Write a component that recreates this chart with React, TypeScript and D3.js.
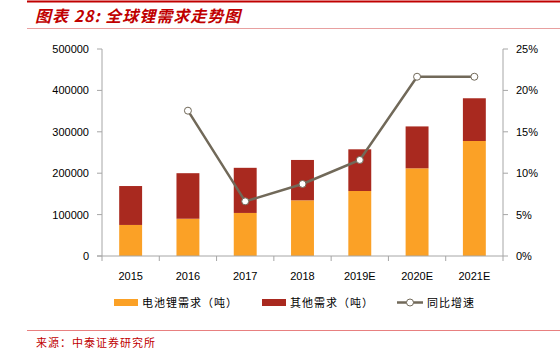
import React from "react";
import * as d3 from "d3";

const categories = ["2015", "2016", "2017", "2018", "2019E", "2020E", "2021E"];
const batteryDemand = [75000, 90000, 104000, 134500, 157000, 211800, 277800];
const otherDemand = [94000, 110000, 109000, 97500, 100700, 101200, 103200];
const growth: (number | null)[] = [null, 17.55, 6.6, 8.7, 11.6, 21.65, 21.65];
const leftTicks = [0, 100000, 200000, 300000, 400000, 500000];
const rightTicks = [0, 5, 10, 15, 20, 25];
const legendLabels = ["电池锂需求（吨）", "其他需求（吨）", "同比增速"];

const W = 560, H = 356;
const left = 102, right = 503, top = 49, bottom = 256;
const ORANGE = "#FBA126";
const RED = "#A9291F";
const LINE = "#716959";
const AXIS = "#A6A6A6";
const FONT = "'Liberation Sans', Arial, sans-serif";
const CJK = "'Noto Sans CJK SC', sans-serif";

export default function App() {
  const x = d3.scaleBand<string>().domain(categories).range([left, right]).paddingInner(0.6).paddingOuter(0.3);
  const xb = d3.scaleBand<string>().domain(categories).range([left, right]);
  const y = d3.scaleLinear().domain([0, 500000]).range([bottom, top]);
  const y2 = d3.scaleLinear().domain([0, 25]).range([bottom, top]);
  const pts = categories
    .map((c, i) => ({ c, v: growth[i] }))
    .filter((d) => d.v !== null) as { c: string; v: number }[];
  const line = d3
    .line<{ c: string; v: number }>()
    .x((d) => (xb(d.c) as number) + xb.bandwidth() / 2)
    .y((d) => y2(d.v));

  return (
    <svg width={W} height={H} style={{ position: "absolute", left: 0, top: 0 }}>
      <rect width={W} height={H} fill="#fff" />
      <line x1={27} x2={560} y1={1.5} y2={1.5} stroke="#C00000" strokeWidth={2} />
      <text x={35} y={22} fill="#C00000" fontFamily={CJK} fontSize={16} fontWeight="bold" fontStyle="italic" letterSpacing={1}>
        图表 28:  全球锂需求走势图
      </text>
      <line x1={27} x2={560} y1={28.5} y2={28.5} stroke="#E8A0A0" strokeWidth={1} />

      {/* bars */}
      {categories.map((c, i) => (
        <g key={c}>
          <rect x={x(c)} width={x.bandwidth()} y={y(batteryDemand[i])} height={bottom - y(batteryDemand[i])} fill={ORANGE} />
          <rect
            x={x(c)}
            width={x.bandwidth()}
            y={y(batteryDemand[i] + otherDemand[i])}
            height={y(batteryDemand[i]) - y(batteryDemand[i] + otherDemand[i])}
            fill={RED}
          />
        </g>
      ))}

      {/* left axis */}
      <line x1={left} x2={left} y1={top} y2={bottom} stroke={AXIS} />
      {leftTicks.map((t) => (
        <g key={t}>
          <line x1={left - 5} x2={left} y1={y(t)} y2={y(t)} stroke={AXIS} />
          <text x={89} y={y(t) + 4} textAnchor="end" fontFamily={FONT} fontSize={11} fill="#000">
            {t}
          </text>
        </g>
      ))}
      {/* right axis */}
      <line x1={right} x2={right} y1={top} y2={bottom} stroke={AXIS} />
      {rightTicks.map((t) => (
        <g key={t}>
          <line x1={right} x2={right + 5} y1={y2(t)} y2={y2(t)} stroke={AXIS} />
          <text x={516} y={y2(t) + 4} fontFamily={FONT} fontSize={11} fill="#000">
            {t + "%"}
          </text>
        </g>
      ))}
      {/* x axis */}
      <line x1={left - 5} x2={right} y1={bottom} y2={bottom} stroke={AXIS} />
      {categories.map((c, i) => (
        <g key={c}>
          <line x1={(xb(c) as number)} x2={(xb(c) as number)} y1={bottom} y2={bottom + 5} stroke={AXIS} />
          <text x={(xb(c) as number) + xb.bandwidth() / 2} y={280} textAnchor="middle" fontFamily={FONT} fontSize={11} fill="#000">
            {c}
          </text>
        </g>
      ))}
      <line x1={right} x2={right} y1={bottom} y2={bottom + 5} stroke={AXIS} />

      {/* growth line */}
      <path d={line(pts) || ""} fill="none" stroke={LINE} strokeWidth={2.5} />
      {pts.map((d) => (
        <circle key={d.c} cx={(xb(d.c) as number) + xb.bandwidth() / 2} cy={y2(d.v)} r={3.5} fill="#fff" stroke={LINE} strokeWidth={1} />
      ))}

      {/* legend */}
      <rect x={114} y={299} width={24} height={7} fill={ORANGE} />
      <text x={142} y={306.5} fontFamily={CJK} fontSize={11} letterSpacing={1} fill="#000">{legendLabels[0]}</text>
      <rect x={262} y={299} width={24} height={7} fill={RED} />
      <text x={290} y={306.5} fontFamily={CJK} fontSize={11} letterSpacing={1} fill="#000">{legendLabels[1]}</text>
      <line x1={397} x2={423} y1={302.5} y2={302.5} stroke={LINE} strokeWidth={2.5} />
      <circle cx={410} cy={302.5} r={3.5} fill="#fff" stroke={LINE} strokeWidth={1} />
      <text x={427} y={306.5} fontFamily={CJK} fontSize={11} letterSpacing={1} fill="#000">{legendLabels[2]}</text>

      {/* source */}
      <line x1={27} x2={560} y1={330.5} y2={330.5} stroke="#E88080" strokeWidth={1} />
      <text x={36} y={347} fontFamily={CJK} fontSize={11} letterSpacing={1} fill="#C00000">来源：中泰证券研究所</text>
    </svg>
  );
}
